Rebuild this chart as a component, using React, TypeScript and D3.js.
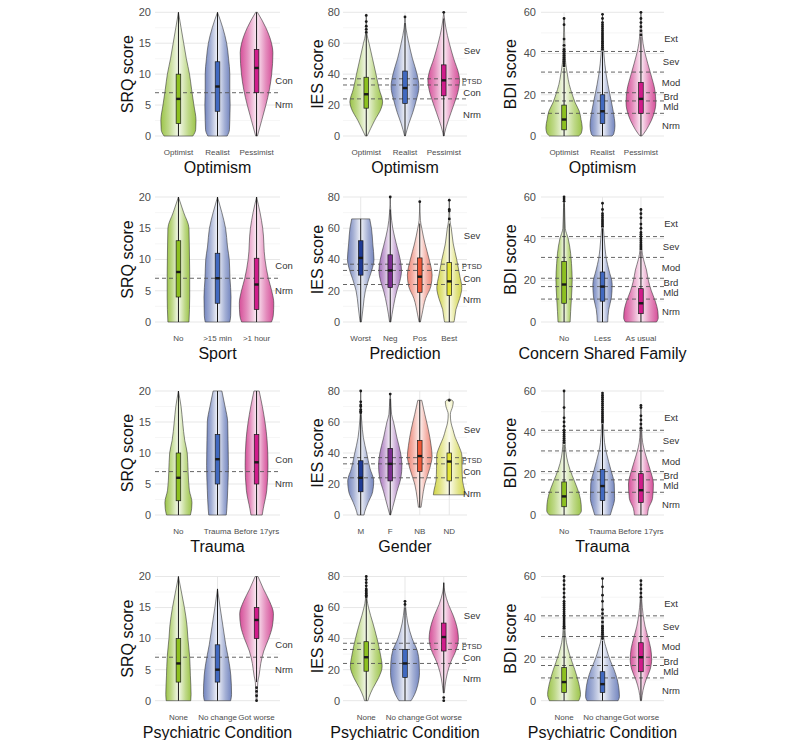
import * as d3 from "d3";

type Dens = [number, number][];
type Group = { cat: string; box: number[]; out: number[]; dens: Dens };

// scale definitions (ticks, cut-off lines, band labels)
const srqTicks = [0, 5, 10, 15, 20];
const iesTicks = [0, 20, 40, 60, 80];
const bdiTicks = [0, 20, 40, 60];
const srqCuts = [7];
const iesCuts = [24, 33, 37];
const bdiCuts = [11, 17, 21, 31, 41];
const srqBands: [string, number][] = [["Con", 9], ["Nrm", 5]];
const iesBands: [string, number][] = [["Sev", 55], ["PTSD", 35.3], ["Con", 28], ["Nrm", 14]];
const bdiBands: [string, number][] = [["Ext", 47], ["Sev", 36], ["Mod", 26], ["Brd", 19], ["Mld", 14], ["Nrm", 5]];

// box = [q1, median, q3, whiskerLow, whiskerHigh]; dens = [score, relative width]
const srqOptimism: Group[] = [
  { cat: "Optimist", box: [2, 6, 10, 0, 20], out: [], dens: [[0, 0.82], [1, 0.98], [2.5, 1.0], [5, 0.88], [7.5, 0.75], [10, 0.63], [12.5, 0.45], [15, 0.3], [17.5, 0.15], [20, 0]] },
  { cat: "Realist", box: [4, 8, 12, 0, 20], out: [], dens: [[0, 0.55], [1, 0.68], [2.5, 0.7], [5, 0.72], [7.5, 0.7], [10, 0.7], [12.5, 0.63], [15, 0.52], [17.5, 0.3], [20, 0]] },
  { cat: "Pessimist", box: [7, 11, 14, 0, 20], out: [], dens: [[0, 0.05], [2.5, 0.29], [5, 0.53], [7.5, 0.73], [10, 0.86], [13.5, 0.93], [15, 0.85], [17.5, 0.53], [20, 0.05]] },
];
const iesOptimism: Group[] = [
  { cat: "Optimist", box: [18, 27, 38, 0, 66], out: [67, 69, 71, 74, 78], dens: [[0, 0.05], [5, 0.26], [10, 0.48], [18, 0.86], [22, 0.94], [30, 0.75], [40, 0.56], [50, 0.36], [60, 0.16], [66, 0.04], [72, 0.02], [78, 0]] },
  { cat: "Realist", box: [21, 31, 42, 0, 73], out: [77], dens: [[0, 0.02], [8, 0.22], [15, 0.44], [22, 0.62], [32, 0.8], [40, 0.69], [50, 0.43], [60, 0.22], [70, 0.05], [77, 0]] },
  { cat: "Pessimist", box: [26, 36, 46, 0, 76], out: [80], dens: [[0, 0.02], [2, 0.05], [10, 0.26], [20, 0.57], [28, 0.8], [36, 0.91], [40, 0.86], [50, 0.57], [60, 0.32], [70, 0.12], [80, 0]] },
];
const bdiOptimism: Group[] = [
  { cat: "Optimist", box: [3, 8, 15, 0, 33], out: [34, 35, 36, 37, 38, 39, 40, 41, 42, 44, 47, 54, 57], dens: [[0, 0.85], [1.5, 1.0], [4, 1.05], [8, 0.98], [12, 0.88], [16, 0.65], [20, 0.48], [25, 0.3], [30, 0.19], [35, 0.1], [40, 0.06], [50, 0.03], [57, 0]] },
  { cat: "Realist", box: [6, 12, 20, 0, 41], out: [42, 43, 44, 45, 46, 47, 48, 49, 50, 51, 52, 53, 54, 55, 57, 59], dens: [[0, 0.55], [1, 0.65], [5, 0.72], [12, 0.62], [20, 0.43], [30, 0.21], [40, 0.08], [50, 0.03], [59, 0]] },
  { cat: "Pessimist", box: [11, 18, 26, 0, 48], out: [49, 51, 53, 55, 57, 60], dens: [[0, 0.05], [1, 0.15], [5, 0.45], [10, 0.72], [16, 0.86], [22, 0.81], [30, 0.57], [40, 0.24], [45, 0.12], [52, 0.04], [60, 0]] },
];
const srqSport: Group[] = [
  { cat: "No", box: [4, 8, 13, 0, 20], out: [], dens: [[0, 0.6], [4, 0.64], [8, 0.64], [12, 0.62], [15, 0.6], [17.5, 0.3], [20, 0]] },
  { cat: ">15 min", box: [3, 7, 11, 0, 20], out: [], dens: [[0, 0.7], [1, 0.75], [4, 0.77], [7, 0.71], [10, 0.67], [12, 0.57], [15, 0.46], [17.5, 0.25], [20, 0]] },
  { cat: ">1 hour", box: [2, 6, 10.2, 0, 20], out: [], dens: [[0, 0.85], [1, 0.95], [3, 0.98], [5, 0.86], [7, 0.67], [10, 0.48], [15, 0.35], [17.5, 0.2], [20, 0]] },
];
const iesPrediction: Group[] = [
  { cat: "Worst", box: [30, 41, 52, 0, 66], out: [], dens: [[0, 0.05], [10, 0.19], [20, 0.35], [28, 0.63], [35, 0.9], [40, 1.0], [50, 0.91], [60, 0.81], [66, 0.68]] },
  { cat: "Neg", box: [22, 33, 43, 0, 72], out: [80], dens: [[0, 0.05], [10, 0.24], [20, 0.5], [26, 0.72], [33, 0.85], [40, 0.75], [50, 0.46], [60, 0.19], [70, 0.05], [80, 0]] },
  { cat: "Pos", box: [19, 29, 41, 0, 63], out: [77], dens: [[0, 0.05], [5, 0.17], [15, 0.44], [23, 0.84], [30, 0.93], [40, 0.71], [50, 0.4], [60, 0.15], [65, 0.05], [77, 0]] },
  { cat: "Best", box: [17, 26, 38, 0, 63], out: [66, 71, 72, 78], dens: [[0, 0.35], [1, 0.38], [8, 0.5], [15, 0.78], [22, 0.94], [30, 0.78], [40, 0.56], [50, 0.3], [60, 0.15], [65, 0.05], [78, 0]] },
];
const bdiFamily: Group[] = [
  { cat: "No", box: [9, 18, 29, 0, 57], out: [58, 59, 60], dens: [[0, 0.35], [5, 0.38], [12, 0.43], [20, 0.47], [28, 0.43], [33, 0.38], [40, 0.24], [45, 0.07], [55, 0.03], [60, 0]] },
  { cat: "Less", box: [10, 17, 24, 0, 45], out: [46, 47, 48, 49, 50, 51, 52, 54, 57], dens: [[0, 0.3], [6, 0.36], [12, 0.52], [18, 0.56], [25, 0.37], [30, 0.23], [35, 0.15], [40, 0.1], [45, 0.05], [57, 0]] },
  { cat: "As usual", box: [4, 9, 16, 0, 34], out: [35, 36, 37, 38, 39, 40, 41, 42, 43, 45, 47, 50, 52, 54], dens: [[0, 0.9], [2, 1.0], [5, 0.98], [10, 0.83], [15, 0.6], [20, 0.43], [25, 0.32], [30, 0.15], [35, 0.05], [45, 0.02], [54, 0]] },
];
const srqTrauma: Group[] = [
  { cat: "No", box: [2.3, 6, 10, 0, 20], out: [], dens: [[0, 0.68], [1, 0.75], [2, 0.77], [4, 0.62], [7, 0.55], [10, 0.5], [12, 0.36], [15, 0.24], [17.5, 0.15], [20, 0]] },
  { cat: "Trauma", box: [5, 9, 13, 0, 20], out: [], dens: [[0, 0.5], [1, 0.53], [4, 0.58], [8, 0.62], [12, 0.6], [15, 0.58], [17.5, 0.43], [20, 0.25]] },
  { cat: "Before 17yrs", box: [5, 8.5, 13, 0, 20], out: [], dens: [[0, 0.32], [1, 0.38], [4, 0.58], [8, 0.65], [12, 0.6], [15, 0.48], [17.5, 0.33], [20, 0.15]] },
];
const iesGender: Group[] = [
  { cat: "M", box: [15, 24, 35, 0, 65], out: [66, 67, 68, 70, 71, 73, 80], dens: [[0, 0.25], [2, 0.3], [8, 0.56], [15, 0.9], [22, 0.98], [30, 0.7], [40, 0.45], [50, 0.2], [60, 0.08], [66, 0.03], [80, 0]] },
  { cat: "F", box: [22, 33, 43, 0, 75], out: [78], dens: [[0, 0.03], [5, 0.19], [15, 0.5], [24, 0.8], [32, 0.88], [40, 0.78], [50, 0.5], [60, 0.25], [65, 0.1], [75, 0.03], [78, 0]] },
  { cat: "NB", box: [28, 38, 48, 5, 74], out: [], dens: [[5, 0.1], [10, 0.18], [20, 0.38], [30, 0.75], [38, 0.93], [45, 0.85], [55, 0.65], [65, 0.38], [74, 0.15]] },
  { cat: "ND", box: [22, 34.5, 40, 13, 47], out: [74], dens: [[13, 1.2], [16, 1.15], [22, 1.0], [30, 0.96], [38, 0.95], [45, 0.7], [50, 0.45], [55, 0.28], [60, 0.12], [65, 0.08], [70, 0.25], [73, 0.3], [75, 0]] },
];
const bdiTrauma: Group[] = [
  { cat: "No", box: [4, 9, 16, 0, 34], out: [35, 36, 37, 38, 39, 40, 41, 43, 45, 47, 52, 60], dens: [[0, 0.85], [2, 1.0], [5, 0.99], [10, 0.88], [16, 0.62], [22, 0.34], [28, 0.15], [33, 0.08], [40, 0.03], [60, 0]] },
  { cat: "Trauma", box: [7, 14, 22, 0, 44], out: [45, 46, 47, 48, 49, 50, 51, 52, 53, 54, 55, 56, 57, 58, 59], dens: [[0, 0.45], [3, 0.56], [8, 0.7], [15, 0.68], [22, 0.48], [30, 0.23], [35, 0.12], [44, 0.05], [59, 0]] },
  { cat: "Before 17yrs", box: [6, 12, 20, 0, 41], out: [42, 44, 46, 48, 52, 53], dens: [[0, 0.38], [3, 0.43], [8, 0.67], [15, 0.72], [22, 0.53], [30, 0.24], [35, 0.1], [40, 0.05], [53, 0]] },
];
const srqPsych: Group[] = [
  { cat: "None", box: [3, 6, 10, 0, 20], out: [], dens: [[0, 0.7], [1, 0.72], [4, 0.68], [7, 0.64], [10, 0.54], [12, 0.49], [15, 0.34], [17.5, 0.17], [20, 0]] },
  { cat: "No change", box: [3, 5, 9, 0, 18], out: [], dens: [[0, 0.75], [1, 0.8], [4, 0.76], [6, 0.67], [9, 0.47], [12, 0.31], [15, 0.15], [18, 0]] },
  { cat: "Got worse", box: [10, 13, 15, 3, 20], out: [0, 0.8, 1.5, 2.1], dens: [[0, 0.02], [1, 0.04], [3, 0.07], [4, 0.14], [6, 0.24], [8, 0.41], [10, 0.69], [12, 0.9], [14, 0.96], [16, 0.74], [18, 0.39], [20, 0.08]] },
];
const iesPsych: Group[] = [
  { cat: "None", box: [19, 28, 38, 0, 66], out: [67, 68, 69, 70, 71, 72, 74, 76, 78, 80], dens: [[0, 0.1], [2, 0.15], [8, 0.38], [15, 0.72], [22, 0.91], [30, 0.81], [40, 0.62], [50, 0.38], [60, 0.13], [65, 0.05], [80, 0]] },
  { cat: "No change", box: [15, 24, 33, 0, 60], out: [62, 64], dens: [[0, 0.35], [4, 0.55], [10, 0.73], [18, 0.83], [25, 0.81], [32, 0.71], [40, 0.41], [50, 0.16], [60, 0.04], [64, 0]] },
  { cat: "Got worse", box: [32, 41, 50, 5, 76], out: [0, 2], dens: [[5, 0.03], [10, 0.08], [18, 0.21], [25, 0.41], [33, 0.72], [40, 0.84], [45, 0.8], [55, 0.54], [62, 0.27], [70, 0.06], [76, 0]] },
];
const bdiPsych: Group[] = [
  { cat: "None", box: [4, 9, 16, 0, 34], out: [35, 36, 37, 38, 39, 40, 41, 42, 43, 44, 45, 46, 47, 48, 50, 52, 54, 56, 58, 60], dens: [[0, 0.85], [3, 0.95], [8, 0.86], [15, 0.62], [22, 0.33], [28, 0.14], [35, 0.05], [45, 0.02], [60, 0]] },
  { cat: "No change", box: [4, 8, 14, 0, 29], out: [30, 31, 32, 33, 34, 35, 36, 38, 40, 42, 44, 48, 51, 55, 59], dens: [[0, 0.9], [2, 0.98], [5, 0.96], [10, 0.86], [15, 0.67], [20, 0.42], [25, 0.23], [30, 0.08], [40, 0.03], [59, 0]] },
  { cat: "Got worse", box: [14, 21, 28, 0, 49], out: [50, 52, 54, 56, 58], dens: [[0, 0.03], [5, 0.12], [10, 0.29], [15, 0.53], [20, 0.62], [25, 0.57], [30, 0.43], [36, 0.24], [42, 0.12], [48, 0.05], [58, 0]] },
];

const scales: Record<string, { max: number; ticks: number[]; cuts: number[]; bands: [string, number][]; title: string }> = {
  srq: { max: 20, ticks: srqTicks, cuts: srqCuts, bands: srqBands, title: "SRQ score" },
  ies: { max: 80, ticks: iesTicks, cuts: iesCuts, bands: iesBands, title: "IES score" },
  bdi: { max: 60, ticks: bdiTicks, cuts: bdiCuts, bands: bdiBands, title: "BDI score" },
};

const panels = [
  { row: 0, col: 0, scale: "srq", xTitle: "Optimism", groups: srqOptimism },
  { row: 0, col: 1, scale: "ies", xTitle: "Optimism", groups: iesOptimism },
  { row: 0, col: 2, scale: "bdi", xTitle: "Optimism", groups: bdiOptimism },
  { row: 1, col: 0, scale: "srq", xTitle: "Sport", groups: srqSport },
  { row: 1, col: 1, scale: "ies", xTitle: "Prediction", groups: iesPrediction },
  { row: 1, col: 2, scale: "bdi", xTitle: "Concern Shared Family", groups: bdiFamily },
  { row: 2, col: 0, scale: "srq", xTitle: "Trauma", groups: srqTrauma },
  { row: 2, col: 1, scale: "ies", xTitle: "Gender", groups: iesGender },
  { row: 2, col: 2, scale: "bdi", xTitle: "Trauma", groups: bdiTrauma },
  { row: 3, col: 0, scale: "srq", xTitle: "Psychiatric Condition", groups: srqPsych },
  { row: 3, col: 1, scale: "ies", xTitle: "Psychiatric Condition", groups: iesPsych },
  { row: 3, col: 2, scale: "bdi", xTitle: "Psychiatric Condition", groups: bdiPsych },
];

const palette3 = [
  { v: "#9cc44a", b: "#8dc021" },
  { v: "#7385bf", b: "#4169c0" },
  { v: "#d64f99", b: "#d01c8b" },
];
const palette4 = [
  { v: "#7585bd", b: "#1f3b94" },
  { v: "#a470ba", b: "#7b2d8e" },
  { v: "#ee8676", b: "#f05a3a" },
  { v: "#d2d548", b: "#e3e336" },
];

const cols = [
  { x0: 155, x1: 280, tickX: 151, titleX: 127, bandX: 284 },
  { x0: 343, x1: 467, tickX: 340, titleX: 317, bandX: 472 },
  { x0: 541, x1: 664, tickX: 536, titleX: 510, bandX: 671 },
];
const rows = [
  [12.3, 136],
  [197, 322],
  [391, 515],
  [576.5, 700.7],
];

const FONT = "'Liberation Sans', Arial, Helvetica, sans-serif";

function Panel({ p }: { p: (typeof panels)[number] }) {
  const col = cols[p.col];
  const [top, bottom] = rows[p.row];
  const sc = scales[p.scale];
  const x = d3
    .scalePoint<string>()
    .domain(p.groups.map((g) => g.cat))
    .range([col.x0, col.x1])
    .padding(0.6);
  const y = d3.scaleLinear().domain([0, sc.max]).range([bottom, top]);
  const half = x.step() * 0.45;
  const boxW = 4.6;
  const four = p.groups.length === 4;
  const minor = sc.ticks.slice(1).map((t, i) => (t + sc.ticks[i]) / 2);

  return (
    <g>
      {minor.map((t) => (
        <line key={"mi" + t} x1={col.x0} x2={col.x1} y1={y(t)} y2={y(t)} stroke="#f0f0f0" strokeWidth={0.6} />
      ))}
      {sc.ticks.map((t) => (
        <line key={"ma" + t} x1={col.x0} x2={col.x1} y1={y(t)} y2={y(t)} stroke="#e4e4e4" strokeWidth={0.9} />
      ))}
      {p.groups.map((g) => (
        <line key={"vg" + g.cat} x1={x(g.cat)} x2={x(g.cat)} y1={top} y2={bottom} stroke="#e4e4e4" strokeWidth={0.9} />
      ))}
      {sc.ticks.map((t) => (
        <text key={"tl" + t} x={col.tickX} y={y(t)} dy="0.35em" textAnchor="end" fontSize={11} fill="#4d4d4d" fontFamily={FONT}>
          {t}
        </text>
      ))}
      {p.groups.map((g, i) => {
        const cx = x(g.cat) as number;
        const area = d3
          .area<[number, number]>()
          .y((d) => y(d[0]))
          .x0((d) => cx - d[1] * half)
          .x1((d) => cx + d[1] * half)
          .curve(d3.curveMonotoneY);
        return (
          <path
            key={"v" + g.cat}
            d={area(g.dens) || ""}
            fill={`url(#grad${four ? 4 : 3}-${i})`}
            stroke="#3a3a3a"
            strokeWidth={0.6}
          />
        );
      })}
      {sc.cuts.map((c) => (
        <line key={"c" + c} x1={col.x0} x2={col.x1} y1={y(c)} y2={y(c)} stroke="#555" strokeWidth={0.9} strokeDasharray="4,3" />
      ))}
      {p.groups.map((g, i) => {
        const cx = x(g.cat) as number;
        const [q1, med, q3, lo, hi] = g.box;
        const pal = (four ? palette4 : palette3)[i];
        return (
          <g key={"b" + g.cat}>
            <line x1={cx} x2={cx} y1={y(lo)} y2={y(hi)} stroke="#1a1a1a" strokeWidth={1} />
            {g.out.map((o, k) => (
              <circle key={k} cx={cx} cy={y(o)} r={1.4} fill="#1a1a1a" />
            ))}
            <rect x={cx - boxW / 2} y={y(q3)} width={boxW} height={y(q1) - y(q3)} fill={pal.b} stroke="#1a1a1a" strokeWidth={0.7} />
            <rect x={cx - boxW / 2} y={y(med) - 1.2} width={boxW} height={2.4} fill="#1a1a1a" />
          </g>
        );
      })}
      {sc.bands.map(([t, v]) => (
        <text
          key={"bd" + t}
          x={col.bandX}
          y={y(v)}
          dy="0.35em"
          textAnchor="middle"
          fontSize={t.length > 3 ? 7.5 : 9.5}
          fill="#333"
          fontFamily={FONT}
        >
          {t}
        </text>
      ))}
      {p.groups.map((g) => (
        <text key={"xl" + g.cat} x={x(g.cat)} y={bottom + 19} textAnchor="middle" fontSize={8} fill="#4d4d4d" fontFamily={FONT}>
          {g.cat}
        </text>
      ))}
      <text x={(col.x0 + col.x1) / 2} y={bottom + 37} textAnchor="middle" fontSize={16} fill="#111" fontFamily={FONT}>
        {p.xTitle}
      </text>
      <text
        transform={`translate(${col.titleX},${(top + bottom) / 2}) rotate(-90)`}
        dy="0.35em"
        textAnchor="middle"
        fontSize={16}
        fill="#111"
        fontFamily={FONT}
      >
        {sc.title}
      </text>
    </g>
  );
}

function Gradients() {
  const mk = (pal: { v: string }[], n: number) =>
    pal.map((c, i) => {
      const mid = d3.interpolateRgb(c.v, "#ffffff");
      return (
        <linearGradient key={`${n}-${i}`} id={`grad${n}-${i}`} x1="0" x2="1" y1="0" y2="0">
          <stop offset="0" stopColor={c.v} />
          <stop offset="0.22" stopColor={mid(0.35)} />
          <stop offset="0.5" stopColor={mid(0.9)} />
          <stop offset="0.78" stopColor={mid(0.35)} />
          <stop offset="1" stopColor={c.v} />
        </linearGradient>
      );
    });
  return (
    <defs>
      {mk(palette3, 3)}
      {mk(palette4, 4)}
    </defs>
  );
}

export default function App() {
  return (
    <svg width={800} height={740} style={{ position: "absolute", left: 0, top: 0, background: "#fff" }}>
      <Gradients />
      {panels.map((p, i) => (
        <Panel key={i} p={p} />
      ))}
    </svg>
  );
}
